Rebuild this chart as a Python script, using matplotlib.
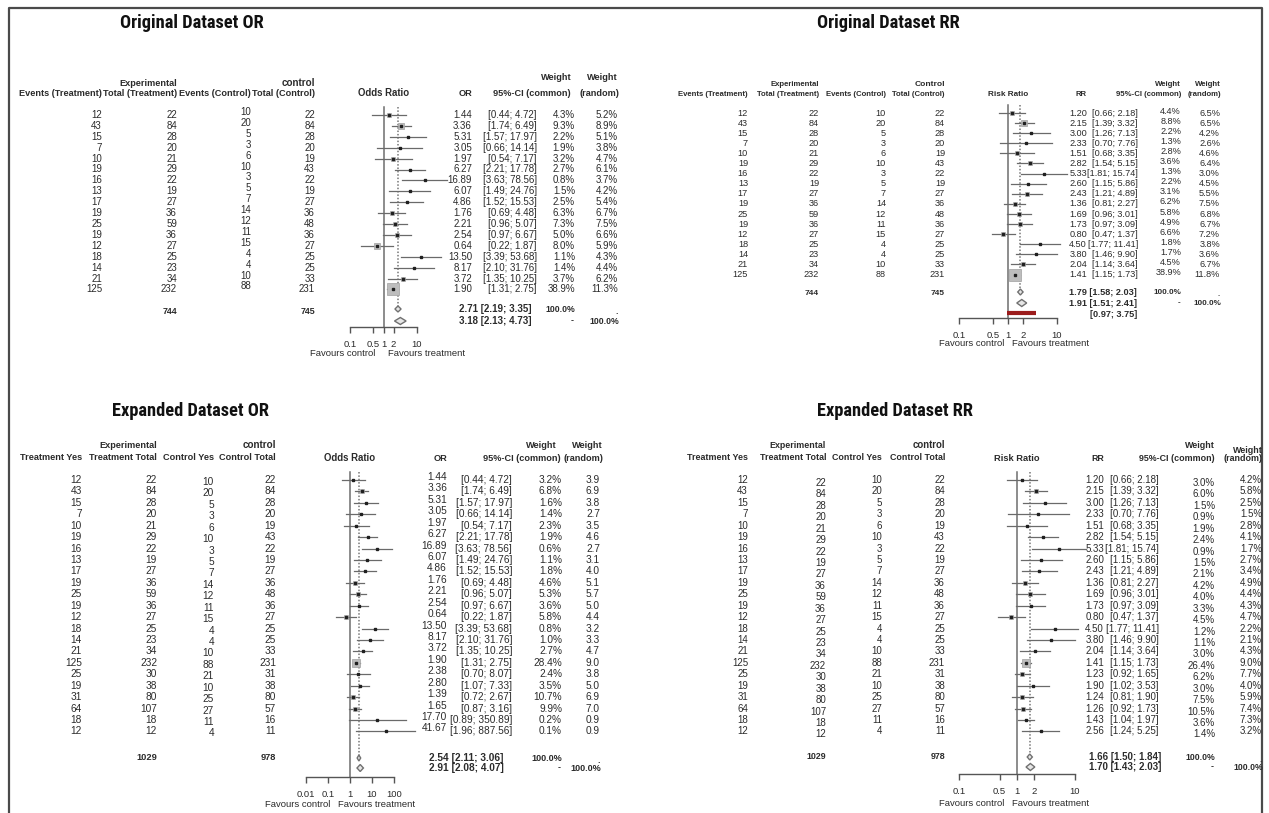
import matplotlib
matplotlib.use("Agg")
import matplotlib.pyplot as plt
from matplotlib import font_manager
import numpy as np

plt.rcParams['font.family'] = ['Liberation Sans', 'DejaVu Sans']

W, H = 1269, 813

# ---- study counts (original 17 studies) ----
trt_events = [12, 43, 15, 7, 10, 19, 16, 13, 17, 19, 25, 19, 12, 18, 14, 21, 125]
trt_total = [22, 84, 28, 20, 21, 29, 22, 19, 27, 36, 59, 36, 27, 25, 23, 34, 232]
ctl_events = [10, 20, 5, 3, 6, 10, 3, 5, 7, 14, 12, 11, 15, 4, 4, 10, 88]
ctl_total = [22, 84, 28, 20, 19, 43, 22, 19, 27, 36, 48, 36, 27, 25, 25, 33, 231]
# extra studies in the expanded dataset
trt_events_x = [25, 19, 31, 64, 18, 12]
trt_total_x = [30, 38, 80, 107, 18, 12]
ctl_events_x = [21, 10, 25, 27, 11, 4]
ctl_total_x = [31, 38, 80, 57, 16, 11]

# ---- odds ratios ----
or_est = [1.44, 3.36, 5.31, 3.05, 1.97, 6.27, 16.89, 6.07, 4.86, 1.76, 2.21, 2.54, 0.64, 13.50, 8.17, 3.72, 1.90]
or_lo = [0.44, 1.74, 1.57, 0.66, 0.54, 2.21, 3.63, 1.49, 1.52, 0.69, 0.96, 0.97, 0.22, 3.39, 2.10, 1.35, 1.31]
or_hi = [4.72, 6.49, 17.97, 14.14, 7.17, 17.78, 78.56, 24.76, 15.53, 4.48, 5.07, 6.67, 1.87, 53.68, 31.76, 10.25, 2.75]
or_est_x = [2.38, 2.80, 1.39, 1.65, 17.70, 41.67]
or_lo_x = [0.70, 1.07, 0.72, 0.87, 0.89, 1.96]
or_hi_x = [8.07, 7.33, 2.67, 3.16, 350.89, 887.56]
or_wc_orig = [4.3, 9.3, 2.2, 1.9, 3.2, 2.7, 0.8, 1.5, 2.5, 6.3, 7.3, 5.0, 8.0, 1.1, 1.4, 3.7, 38.9]
or_wr_orig = [5.2, 8.9, 5.1, 3.8, 4.7, 6.1, 3.7, 4.2, 5.4, 6.7, 7.5, 6.6, 5.9, 4.3, 4.4, 6.2, 11.3]
or_wc_exp = [3.2, 6.8, 1.6, 1.4, 2.3, 1.9, 0.6, 1.1, 1.8, 4.6, 5.3, 3.6, 5.8, 0.8, 1.0, 2.7, 28.4,
             2.4, 3.5, 10.7, 9.9, 0.2, 0.1]
or_wr_exp = [3.9, 6.9, 3.8, 2.7, 3.5, 4.6, 2.7, 3.1, 4.0, 5.1, 5.7, 5.0, 4.4, 3.2, 3.3, 4.7, 9.0,
             3.8, 5.0, 6.9, 7.0, 0.9, 0.9]

# ---- risk ratios ----
rr_est = [1.20, 2.15, 3.00, 2.33, 1.51, 2.82, 5.33, 2.60, 2.43, 1.36, 1.69, 1.73, 0.80, 4.50, 3.80, 2.04, 1.41]
rr_lo = [0.66, 1.39, 1.26, 0.70, 0.68, 1.54, 1.81, 1.15, 1.21, 0.81, 0.96, 0.97, 0.47, 1.77, 1.46, 1.14, 1.15]
rr_hi = [2.18, 3.32, 7.13, 7.76, 3.35, 5.15, 15.74, 5.86, 4.89, 2.27, 3.01, 3.09, 1.37, 11.41, 9.90, 3.64, 1.73]
rr_est_x = [1.23, 1.90, 1.24, 1.26, 1.43, 2.56]
rr_lo_x = [0.92, 1.02, 0.81, 0.92, 1.04, 1.24]
rr_hi_x = [1.65, 3.53, 1.90, 1.73, 1.97, 5.25]
rr_wc_orig = [4.4, 8.8, 2.2, 1.3, 2.8, 3.6, 1.3, 2.2, 3.1, 6.2, 5.8, 4.9, 6.6, 1.8, 1.7, 4.5, 38.9]
rr_wr_orig = [6.5, 6.5, 4.2, 2.6, 4.6, 6.4, 3.0, 4.5, 5.5, 7.5, 6.8, 6.7, 7.2, 3.8, 3.6, 6.7, 11.8]
rr_wc_exp = [3.0, 6.0, 1.5, 0.9, 1.9, 2.4, 0.9, 1.5, 2.1, 4.2, 4.0, 3.3, 4.5, 1.2, 1.1, 3.0, 26.4,
             6.2, 3.0, 7.5, 10.5, 3.6, 1.4]
rr_wr_exp = [4.2, 5.8, 2.5, 1.5, 2.8, 4.1, 1.7, 2.7, 3.4, 4.9, 4.4, 4.3, 4.7, 2.2, 2.1, 4.3, 9.0,
             7.7, 4.0, 5.9, 7.4, 7.3, 3.2]

# pooled (estimate, lower, upper)
or_orig_common, or_orig_random = (2.71, 2.19, 3.35), (3.18, 2.13, 4.73)
rr_orig_common, rr_orig_random = (1.79, 1.58, 2.03), (1.91, 1.51, 2.41)
rr_orig_pred = (0.97, 3.75)
or_exp_common, or_exp_random = (2.54, 2.11, 3.06), (2.91, 2.08, 4.07)
rr_exp_common, rr_exp_random = (1.66, 1.50, 1.84), (1.70, 1.43, 2.03)

orig_counts = (trt_events, trt_total, ctl_events, ctl_total)
exp_counts = (trt_events + trt_events_x, trt_total + trt_total_x,
              ctl_events + ctl_events_x, ctl_total + ctl_total_x)

panels = [
    dict(title="Original Dataset OR", tx=192, ty=23, counts=orig_counts,
         heads=["Events (Treatment)", "Total (Treatment)", "Events (Control)", "Total (Control)"],
         groups=("Experimental", "control"), col_x=[102, 177, 251, 315], col_dy=[0, 0, -3, 0],
         h1=83, h2=93, y0=115, dy=10.9, tot_y=311, fs=7.0, hs=6.6,
         est=or_est, lo=or_lo, hi=or_hi, wc=or_wc_orig, wr=or_wr_orig, wr_pct=True,
         common=or_orig_common, random=or_orig_random, pred=None,
         label="Odds Ratio", short="OR", px1=383.5, ppd=33.5, fx=(340, 455),
         ticks=[0.1, 0.5, 1, 2, 10], cy=309, ry=321, ay=327, fav=(353, 375, 388),
         text_x=[472, 537, 575, 618], text_dy=[0, 0, 0, 0],
         wh=(77, 77, 572, 618), h2r=(93, 472, 571, 619), sum_x=459, box_k=1.3),
    dict(title="Original Dataset RR", tx=888, ty=23, counts=orig_counts,
         heads=["Events (Treatment)", "Total (Treatment)", "Events (Control)", "Total (Control)"],
         groups=("Experimental", "Control"), col_x=[748, 819, 886, 945], col_dy=[0, 0, 0, 0],
         h1=85, h2=94, y0=113, dy=10.1, tot_y=293, fs=6.6, hs=5.6,
         est=rr_est, lo=rr_lo, hi=rr_hi, wc=rr_wc_orig, wr=rr_wr_orig, wr_pct=True,
         common=rr_orig_common, random=rr_orig_random, pred=rr_orig_pred,
         label="Risk Ratio", short="RR", px1=1008, ppd=49, fx=(950, 1075),
         ticks=[0.1, 0.5, 1, 2, 10], cy=292, ry=303, ay=318, fav=(343, 1004, 1012),
         text_x=[1087, 1138, 1181, 1220], text_dy=[0, 0, -2, 0],
         wh=(85, 85, 1181, 1221), h2r=(94, 1087, 1181, 1221), sum_x=1069, box_k=1.3),
    dict(title="Expanded Dataset OR", tx=190, ty=411, counts=exp_counts,
         heads=["Treatment Yes", "Treatment Total", "Control Yes", "Control Total"],
         groups=("Experimental", "control"), col_x=[82, 157, 214, 276], col_dy=[0, 0, 2, 0],
         h1=445, h2=457, y0=480, dy=11.43, tot_y=757, fs=7.3, hs=6.6,
         est=or_est + or_est_x, lo=or_lo + or_lo_x, hi=or_hi + or_hi_x,
         wc=or_wc_exp, wr=or_wr_exp, wr_pct=False,
         common=or_exp_common, random=or_exp_random, pred=None,
         label="Odds Ratio", short="OR", px1=350, ppd=22, fx=(300, 425),
         ticks=[0.01, 0.1, 1, 10, 100], cy=758, ry=768, ay=777, fav=(804, 330, 338),
         text_x=[447, 512, 562, 600], text_dy=[-3, 0, 0, 0],
         wh=(445, 445, 557, 603), h2r=(458, 447, 561, 603), sum_x=429, box_k=1.1),
    dict(title="Expanded Dataset RR", tx=895, ty=411, counts=exp_counts,
         heads=["Treatment Yes", "Treatment Total", "Control Yes", "Control Total"],
         groups=("Experimental", "control"), col_x=[748, 826, 882, 945], col_dy=[0, 3, 0, 0],
         h1=445, h2=457, y0=480, dy=11.43, tot_y=756, fs=7.0, hs=6.4,
         est=rr_est + rr_est_x, lo=rr_lo + rr_lo_x, hi=rr_hi + rr_hi_x,
         wc=rr_wc_exp, wr=rr_wr_exp, wr_pct=True,
         common=rr_exp_common, random=rr_exp_random, pred=None,
         label="Risk Ratio", short="RR", px1=1017, ppd=58, fx=(950, 1090),
         ticks=[0.1, 0.5, 1, 2, 10], cy=757, ry=767, ay=774, fav=(803, 1004, 1012),
         text_x=[1104, 1159, 1215, 1262], text_dy=[0, 0, 3, 0],
         wh=(445, 450, 1215, 1263), h2r=(458, 1104, 1215, 1263), sum_x=1089, box_k=1.1),
]


def installed(name):
    try:
        font_manager.findfont(font_manager.FontProperties(family=name), fallback_to_default=False)
        return True
    except ValueError:
        return False


# titles in the reference are set in a condensed bold face
title_family, title_size = 'Liberation Sans', 11.5
for cand in ['Liberation Sans Narrow', 'Roboto Condensed', 'Open Sans Condensed', 'DejaVu Sans Condensed']:
    if installed(cand):
        title_family, title_size = cand, 13.2
        break

TXT = '#2b2b2b'
LINE = '#6e6e6e'

fig = plt.figure(figsize=(W / 100, H / 100), dpi=100)
bg = fig.add_axes([0, 0, 1, 1])
bg.set_xlim(0, W)
bg.set_ylim(H, 0)
bg.axis('off')

# outer frame
bg.plot([8.5, 8.5, 1261.5, 1261.5], [H + 5, 8.5, 8.5, H + 5], color='#4a4a4a', lw=1.6)


def put(x, y, s, ha='right', size=7, bold=False, color=TXT, **kw):
    bg.text(x, y, s, ha=ha, va='center', fontsize=size,
            fontweight='bold' if bold else 'normal', color=color, **kw)


def pool_diamond(ax, eff, y, h):
    e, lo, hi = eff
    ax.fill([lo, e, hi, e, lo], [y, y - h, y, y + h, y], facecolor='#e6e6e6',
            edgecolor='#707070', lw=1.0, zorder=4)


for p in panels:
    bg.text(p['tx'], p['ty'], p['title'], ha='center', va='center', fontsize=title_size,
            fontweight='bold', color='#111111', family=[title_family, 'DejaVu Sans'])

    # left table
    put(p['col_x'][1], p['h1'], p['groups'][0], size=p['hs'], bold=True)
    put(p['col_x'][3], p['h1'], p['groups'][1], size=p['hs'] + 0.5, bold=True)
    for cx, head in zip(p['col_x'], p['heads']):
        put(cx, p['h2'], head, size=p['hs'], bold=True)
    n = len(p['est'])
    rows_y = p['y0'] + p['dy'] * np.arange(n)
    for cx, cdy, col in zip(p['col_x'], p['col_dy'], p['counts']):
        for y, v in zip(rows_y, col):
            put(cx, y + cdy, str(v), size=p['fs'])
    put(p['col_x'][1], p['tot_y'], str(sum(p['counts'][1])), size=p['fs'] - 0.6, bold=True)
    put(p['col_x'][3], p['tot_y'], str(sum(p['counts'][3])), size=p['fs'] - 0.6, bold=True)

    # right table
    wy1, wy2, wx1, wx2 = p['wh']
    put(wx1, wy1, "Weight", size=p['hs'], bold=True)
    put(wx2, wy2, "Weight", size=p['hs'], bold=True)
    hy, sx, cix, rx = p['h2r']
    put(sx, hy, p['short'], size=p['hs'], bold=True)
    put(cix, hy, "95%-CI (common)", size=p['hs'], bold=True)
    put(rx, hy, "(random)", size=p['hs'], bold=True)
    put(p['px1'], hy, p['label'], ha='center', size=p['hs'] + 0.3, bold=True)
    tx, tdy = p['text_x'], p['text_dy']
    for i, y in enumerate(rows_y):
        put(tx[0], y + tdy[0], f"{p['est'][i]:.2f}", size=p['fs'])
        put(tx[1], y + tdy[1], f"[{p['lo'][i]:.2f}; {p['hi'][i]:.2f}]", size=p['fs'])
        put(tx[2], y + tdy[2], f"{p['wc'][i]:.1f}%", size=p['fs'])
        wr = f"{p['wr'][i]:.1f}" + ('%' if p['wr_pct'] else '')
        put(tx[3], y + tdy[3], wr, size=p['fs'])
    c, r = p['common'], p['random']
    put(p['sum_x'], p['cy'], f"{c[0]:.2f} [{c[1]:.2f}; {c[2]:.2f}]", ha='left', size=p['fs'], bold=True)
    put(p['sum_x'], p['ry'], f"{r[0]:.2f} [{r[1]:.2f}; {r[2]:.2f}]", ha='left', size=p['fs'], bold=True)
    put(tx[2], p['cy'], "100.0%", size=p['fs'] - 0.8, bold=True)
    put(tx[3], p['cy'] + 2, ".", size=p['fs'] - 0.8, bold=True)
    put(tx[2] - 1, p['ry'], "-", size=p['fs'] - 0.8, bold=True)
    put(tx[3] + 1, p['ry'], "100.0%", size=p['fs'] - 0.8, bold=True)
    if p['pred'] is not None:
        put(p['sum_x'] + 21, p['ry'] + 11, f"[{p['pred'][0]:.2f}; {p['pred'][1]:.2f}]",
            ha='left', size=p['fs'], bold=True)

    # forest axes: pixel rows vertically, log scale horizontally
    x0, x1 = p['fx']
    ytop, ybot = p['y0'] - 12, p['ay'] + 2
    ax = fig.add_axes([x0 / W, 1 - ybot / H, (x1 - x0) / W, (ybot - ytop) / H])
    ax.patch.set_alpha(0)
    ax.set_xscale('log')
    ax.set_xlim(10 ** ((x0 - p['px1']) / p['ppd']), 10 ** ((x1 - p['px1']) / p['ppd']))
    ax.set_ylim(ybot, ytop)
    for side in ('top', 'left', 'right'):
        ax.spines[side].set_visible(False)
    ax.spines['bottom'].set_position(('data', p['ay']))
    ax.spines['bottom'].set_bounds(p['ticks'][0], p['ticks'][-1])
    ax.spines['bottom'].set_color('#555555')
    ax.spines['bottom'].set_linewidth(1.0)
    ax.set_yticks([])
    ax.set_xticks(p['ticks'])
    ax.set_xticklabels([f"{t:g}" for t in p['ticks']])
    ax.xaxis.set_minor_locator(matplotlib.ticker.NullLocator())
    ax.tick_params(axis='x', direction='out', length=4, width=1.0, color='#555555',
                   pad=5, labelsize=6.8, labelcolor=TXT)

    # reference line at 1 and dotted common-effect line
    ax.plot([1, 1], [p['y0'] - 8, p['ay']], color=LINE, lw=1.1, zorder=1)
    ax.plot([c[0], c[0]], [p['y0'] - 8, p['cy'] - 3], color='#777777', lw=1.1,
            ls=(0, (1, 1.2)), zorder=1)

    # study confidence intervals and weight boxes
    for i, y in enumerate(rows_y):
        ax.plot([p['lo'][i], p['hi'][i]], [y, y], color='#6a6a6a', lw=0.9, zorder=2)
        ax.plot(p['est'][i], y, marker='s', ms=np.sqrt(p['wc'][i]) * p['box_k'],
                mfc='#bdbdbd', mec='#a0a0a0', mew=0.5, ls='none', zorder=3)
        ax.plot(p['est'][i], y, marker='s', ms=1.6, color='#202020', ls='none', zorder=4)

    pool_diamond(ax, c, p['cy'], 3.0)
    pool_diamond(ax, r, p['ry'], 3.5)
    if p['pred'] is not None:
        ax.plot(p['pred'], [p['ry'] + 10, p['ry'] + 10], color='#9b1b1b', lw=3.0,
                solid_capstyle='butt', zorder=4)

    fy, fcx, ftx = p['fav']
    put(fcx, fy, "Favours control", ha='right', size=6.8)
    put(ftx, fy, "Favours treatment", ha='left', size=6.8)

fig.savefig("out.png", dpi=100)
